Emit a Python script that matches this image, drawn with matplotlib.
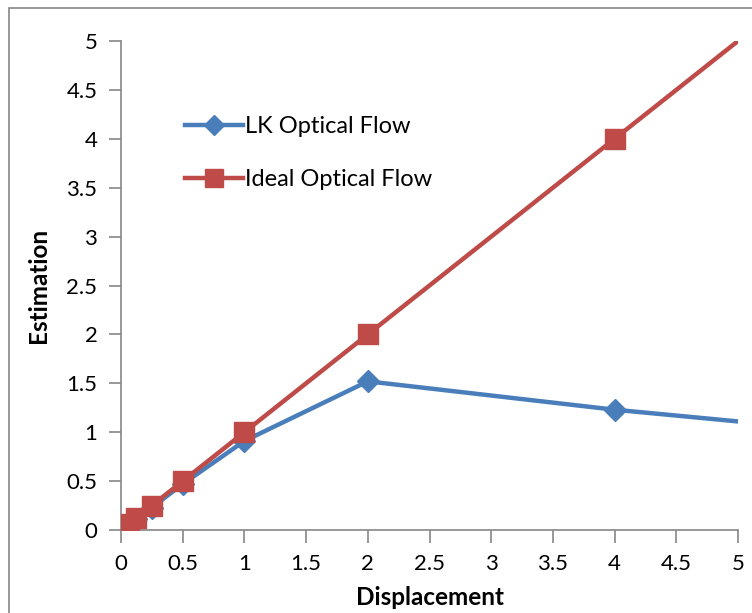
import matplotlib
matplotlib.use('Agg')
import matplotlib.pyplot as plt
from matplotlib.patches import Rectangle

# Data
displacement = [0.03125, 0.0625, 0.125, 0.25, 0.5, 1, 2, 4, 8]
lk_flow      = [0.02, 0.05, 0.11, 0.23, 0.47, 0.91, 1.52, 1.23, 0.75]
ideal_flow   = [0.03125, 0.0625, 0.125, 0.25, 0.5, 1, 2, 4, 8]
ticks        = [0, 0.5, 1, 1.5, 2, 2.5, 3, 3.5, 4, 4.5, 5]
tick_labels  = ['0', '0.5', '1', '1.5', '2', '2.5', '3', '3.5', '4', '4.5', '5']

plt.rcParams['font.family'] = ['Lato', 'DejaVu Sans']
grey = '#868686'

fig = plt.figure(figsize=(7.52, 6.13), dpi=100)
# outer chart border (right/bottom edges fall off the picture)
fig.patches.append(Rectangle((9/752, -0.02), 1.02, 1 - 8/613 + 0.02, transform=fig.transFigure,
                             fill=False, edgecolor=grey, lw=1.2))

ax = fig.add_axes([121/752, 1 - 530/613, (738 - 121)/752, (530 - 41)/613])
ax.plot(displacement, lk_flow, color='#4A7EBB', lw=3.2, marker='D', markersize=11,
        label='LK Optical Flow', zorder=3)
ax.plot(displacement, ideal_flow, color='#BE4B48', lw=3.2, marker='s', markersize=14,
        label='Ideal Optical Flow', zorder=4)

ax.set_xlim(0, 5)
ax.set_ylim(0, 5)
ax.set_xticks(ticks)
ax.set_xticklabels(tick_labels)
ax.set_yticks(ticks)
ax.set_yticklabels(tick_labels)
ax.tick_params(direction='out', length=9, width=1.2, color=grey, labelsize=16, pad=8)
for side in ['top', 'right']:
    ax.spines[side].set_visible(False)
for side in ['left', 'bottom']:
    ax.spines[side].set_color(grey)
    ax.spines[side].set_linewidth(1.2)

ax.set_xlabel('Displacement', fontsize=17.5, fontweight='bold', labelpad=9)
ax.set_ylabel('Estimation', fontsize=17.5, fontweight='bold', labelpad=12)

ax.legend(loc='upper left', bbox_to_anchor=(0.246, 0.81), bbox_transform=fig.transFigure,
          frameon=False, fontsize=17, handlelength=2.45, handletextpad=0.1, labelspacing=1.35,
          markerscale=0.9, borderaxespad=0, borderpad=0)

fig.savefig('out.png', dpi=100)
